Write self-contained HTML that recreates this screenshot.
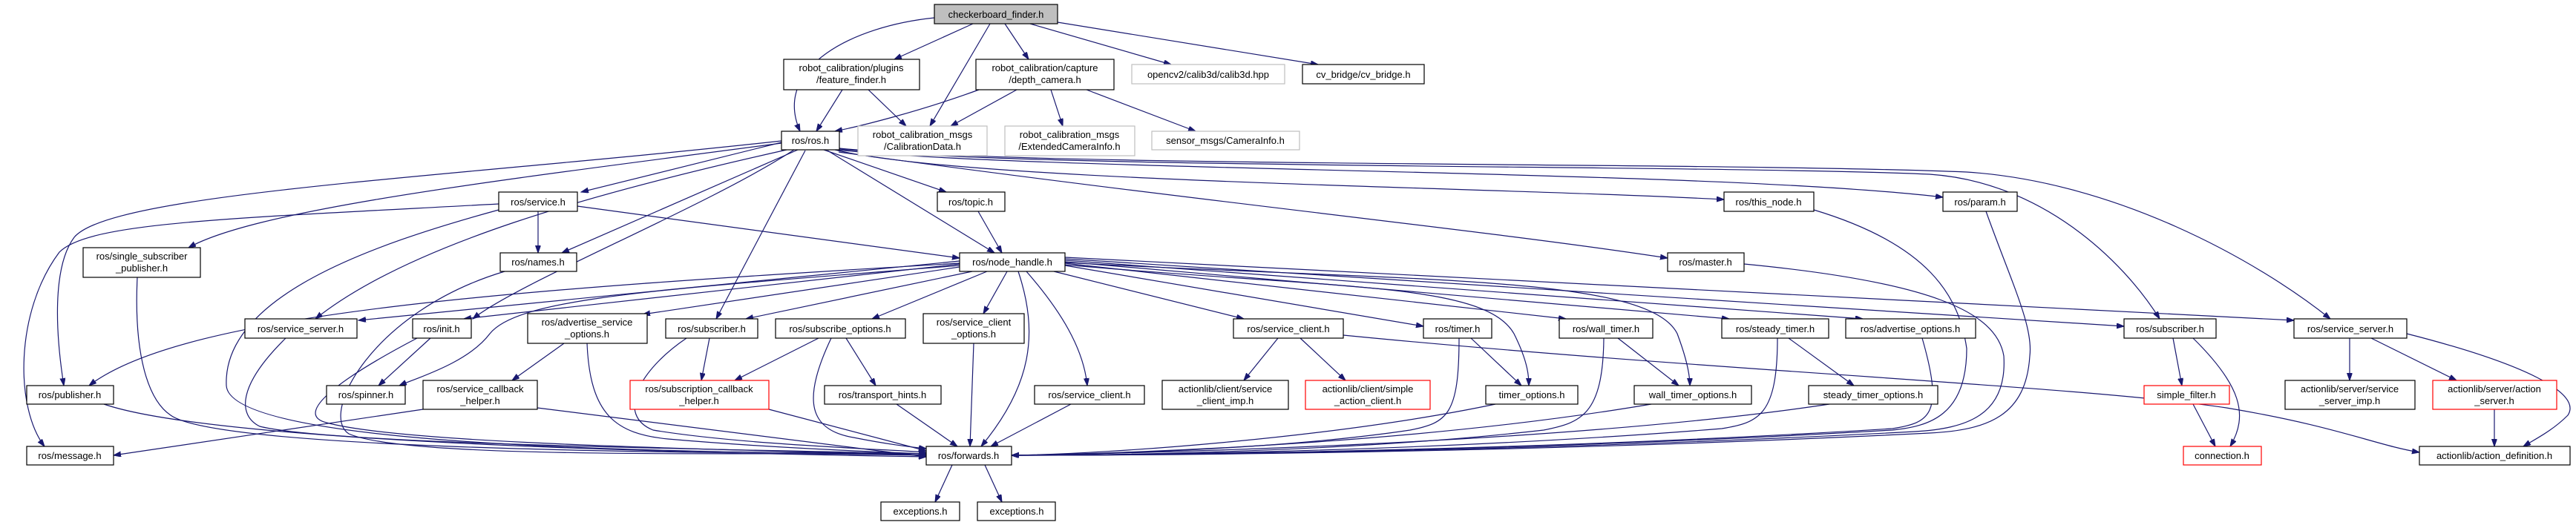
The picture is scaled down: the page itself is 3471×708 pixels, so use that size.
<!DOCTYPE html>
<html><head><meta charset="utf-8"><style>
html,body{margin:0;padding:0;background:#fff}
svg{display:block}
text{font-family:"Liberation Sans",sans-serif;font-size:13px;fill:#000;text-anchor:middle}
.e{fill:none;stroke:#191970;stroke-width:1.2;marker-end:url(#a)}
.n{fill:#fff;stroke:#000;stroke-width:1.2}
.g{fill:#fff;stroke:#bfbfbf;stroke-width:1.2}
.r{fill:#fff;stroke:#ff0000;stroke-width:1.2}
</style></head><body>
<svg width="3471" height="708" viewBox="0 0 3471 708" xmlns="http://www.w3.org/2000/svg">
<defs><marker id="a" markerUnits="userSpaceOnUse" markerWidth="11" markerHeight="8" refX="10" refY="3.5" orient="auto"><polygon points="0,0 10,3.5 0,7" fill="#191970" stroke="#191970"/></marker></defs>
<g>
<path class="e" d="M1259,24 C1150,35 1040,90 1078,177"/>
<path class="e" d="M1311,32 L1205,80"/>
<path class="e" d="M1334,32 L1253,170"/>
<path class="e" d="M1354,32 L1386,80"/>
<path class="e" d="M1388,32 L1578,87"/>
<path class="e" d="M1425,30 L1776,87"/>
<path class="e" d="M1135,121 L1100,177"/>
<path class="e" d="M1170,121 L1221,170"/>
<path class="e" d="M1319,121 C1240,150 1160,170 1125,177"/>
<path class="e" d="M1370,121 L1281,170"/>
<path class="e" d="M1416,121 L1432,170"/>
<path class="e" d="M1464,121 L1611,177"/>
<path class="e" d="M1053,192 L783,259"/>
<path class="e" d="M1053,193 C700,240 350,280 254,334"/>
<path class="e" d="M1053,190 C600,240 150,260 100,320 C70,360 75,450 86,520"/>
<path class="e" d="M672,275 C300,295 120,300 80,340 C20,420 20,550 60,602"/>
<path class="e" d="M1060,202 C800,260 550,330 425,430"/>
<path class="e" d="M1070,202 C950,280 700,380 637,430"/>
<path class="e" d="M1075,202 L757,341"/>
<path class="e" d="M1085,203 L965,430"/>
<path class="e" d="M1110,202 L1275,259"/>
<path class="e" d="M1115,203 L1340,341"/>
<path class="e" d="M1125,202 C1300,245 2000,252 2323,269"/>
<path class="e" d="M1128,202 C1400,232 2300,228 2618,266"/>
<path class="e" d="M1130,205 C1600,270 2000,310 2247,348"/>
<path class="e" d="M1131,201 C1400,228 2300,222 2600,235 C2750,245 2860,350 2910,430"/>
<path class="e" d="M1131,200 C1400,226 2300,218 2650,232 C2850,245 3040,350 3140,430"/>
<path class="e" d="M725,285 L725,341"/>
<path class="e" d="M778,278 L1293,348"/>
<path class="e" d="M672,283 C500,330 300,400 305,520 C310,610 1000,610 1248,612"/>
<path class="e" d="M1293,355 C700,390 250,420 120,520"/>
<path class="e" d="M1293,352 L483,432"/>
<path class="e" d="M1293,358 C900,390 700,400 660,450 C630,490 560,510 538,520"/>
<path class="e" d="M1293,356 L625,430"/>
<path class="e" d="M1293,360 L866,424"/>
<path class="e" d="M1310,366 L1005,430"/>
<path class="e" d="M1330,366 L1175,430"/>
<path class="e" d="M1357,366 L1325,423"/>
<path class="e" d="M1372,366 C1400,450 1390,520 1322,602"/>
<path class="e" d="M1383,366 C1430,420 1460,470 1465,520"/>
<path class="e" d="M1420,366 L1676,430"/>
<path class="e" d="M1435,358 L1918,440"/>
<path class="e" d="M1435,357 C1800,390 2000,380 2040,450 C2060,490 2060,510 2060,520"/>
<path class="e" d="M1435,355 L2110,430"/>
<path class="e" d="M1435,354 C1900,380 2220,370 2260,450 C2275,490 2277,510 2277,520"/>
<path class="e" d="M1435,353 L2330,430"/>
<path class="e" d="M1435,351 L2510,430"/>
<path class="e" d="M1435,349 L2862,440"/>
<path class="e" d="M1435,347 L3091,432"/>
<path class="e" d="M1318,285 L1350,341"/>
<path class="e" d="M680,366 C500,420 430,560 470,585 C550,620 1000,610 1248,612"/>
<path class="e" d="M185,374 C180,480 200,540 230,560 C300,610 1000,610 1248,614"/>
<path class="e" d="M140,545 C300,600 1000,612 1248,616"/>
<path class="e" d="M385,456 C320,520 320,560 350,575 C450,600 1000,606 1248,612"/>
<path class="e" d="M562,456 C440,520 400,560 440,570 C550,600 1000,606 1248,614"/>
<path class="e" d="M580,456 L510,520"/>
<path class="e" d="M570,552 L153,614"/>
<path class="e" d="M724,550 L1248,616"/>
<path class="e" d="M760,463 L690,513"/>
<path class="e" d="M791,463 C795,560 830,585 900,592 C1050,605 1200,610 1248,612"/>
<path class="e" d="M925,456 C860,500 830,560 880,580 C1000,600 1200,606 1248,610"/>
<path class="e" d="M956,456 L945,513"/>
<path class="e" d="M1036,552 L1248,608"/>
<path class="e" d="M1103,456 L990,513"/>
<path class="e" d="M1120,456 C1080,540 1090,580 1150,590 C1200,600 1230,603 1248,605"/>
<path class="e" d="M1140,456 L1180,520"/>
<path class="e" d="M1208,545 L1290,602"/>
<path class="e" d="M1312,463 L1307,602"/>
<path class="e" d="M1443,545 L1335,602"/>
<path class="e" d="M1722,456 L1676,513"/>
<path class="e" d="M1752,456 L1813,513"/>
<path class="e" d="M1810,452 C2300,500 2800,520 3000,550 C3150,575 3200,600 3260,610"/>
<path class="e" d="M1966,456 C1966,560 1950,570 1900,580 C1700,610 1400,614 1363,614"/>
<path class="e" d="M1982,456 L2050,520"/>
<path class="e" d="M2015,545 C1800,590 1500,612 1363,614"/>
<path class="e" d="M2161,456 C2160,560 2130,570 2080,580 C1800,612 1450,614 1363,614"/>
<path class="e" d="M2180,456 L2262,520"/>
<path class="e" d="M2225,545 C1900,600 1500,612 1363,614"/>
<path class="e" d="M2395,456 C2395,560 2370,570 2320,578 C1900,612 1450,614 1363,614"/>
<path class="e" d="M2410,456 L2498,520"/>
<path class="e" d="M2465,545 C2100,600 1500,612 1363,614"/>
<path class="e" d="M2590,456 C2620,560 2600,570 2550,578 C2000,612 1450,614 1363,614"/>
<path class="e" d="M2444,283 C2600,330 2640,400 2650,470 C2650,560 2600,575 2550,580 C2000,612 1450,614 1363,614"/>
<path class="e" d="M2676,285 C2710,380 2740,440 2735,480 C2730,560 2680,580 2600,584 C2000,614 1450,614 1363,614"/>
<path class="e" d="M2350,356 C2600,380 2690,420 2700,480 C2705,560 2650,578 2580,582 C2000,613 1450,614 1363,614"/>
<path class="e" d="M2928,456 L2940,520"/>
<path class="e" d="M2955,456 C3020,520 3030,560 3005,602"/>
<path class="e" d="M2955,545 L2985,602"/>
<path class="e" d="M3166,456 L3166,513"/>
<path class="e" d="M3195,456 L3310,513"/>
<path class="e" d="M3243,450 C3400,490 3480,530 3460,560 C3440,580 3420,590 3400,602"/>
<path class="e" d="M3361,552 L3361,602"/>
<path class="e" d="M1283,627 L1260,677"/>
<path class="e" d="M1327,627 L1350,677"/>
</g>
<g>
<rect x="1259" y="6" width="166" height="26" fill="#bfbfbf" stroke="#000" stroke-width="1.2"/><text x="1342" y="24">checkerboard_finder.h</text>
<rect class="n" x="1056" y="80" width="183" height="41"/><text x="1147" y="96">robot_calibration/plugins</text><text x="1147" y="112">/feature_finder.h</text>
<rect class="n" x="1315" y="80" width="186" height="41"/><text x="1408" y="96">robot_calibration/capture</text><text x="1408" y="112">/depth_camera.h</text>
<rect class="g" x="1525" y="87" width="206" height="26"/><text x="1628" y="105">opencv2/calib3d/calib3d.hpp</text>
<rect class="n" x="1755" y="87" width="164" height="26"/><text x="1837" y="105">cv_bridge/cv_bridge.h</text>
<rect class="n" x="1053" y="177" width="78" height="25"/><text x="1092" y="194">ros/ros.h</text>
<rect class="g" x="1156" y="170" width="174" height="40"/><text x="1243" y="186">robot_calibration_msgs</text><text x="1243" y="202">/CalibrationData.h</text>
<rect class="g" x="1354" y="170" width="175" height="40"/><text x="1441" y="186">robot_calibration_msgs</text><text x="1441" y="202">/ExtendedCameraInfo.h</text>
<rect class="g" x="1552" y="177" width="199" height="25"/><text x="1651" y="194">sensor_msgs/CameraInfo.h</text>
<rect class="n" x="1263" y="259" width="91" height="26"/><text x="1308" y="277">ros/topic.h</text>
<rect class="n" x="1293" y="341" width="142" height="25"/><text x="1364" y="358">ros/node_handle.h</text>
<rect class="n" x="672" y="259" width="106" height="26"/><text x="725" y="277">ros/service.h</text>
<rect class="n" x="112" y="334" width="158" height="40"/><text x="191" y="350">ros/single_subscriber</text><text x="191" y="366">_publisher.h</text>
<rect class="n" x="674" y="341" width="103" height="25"/><text x="725" y="358">ros/names.h</text>
<rect class="n" x="330" y="430" width="151" height="26"/><text x="405" y="448">ros/service_server.h</text>
<rect class="n" x="556" y="430" width="79" height="26"/><text x="595" y="448">ros/init.h</text>
<rect class="n" x="711" y="423" width="161" height="40"/><text x="791" y="439">ros/advertise_service</text><text x="791" y="455">_options.h</text>
<rect class="n" x="36" y="520" width="117" height="25"/><text x="94" y="537">ros/publisher.h</text>
<rect class="n" x="440" y="520" width="106" height="25"/><text x="493" y="537">ros/spinner.h</text>
<rect class="n" x="570" y="513" width="154" height="39"/><text x="647" y="529">ros/service_callback</text><text x="647" y="545">_helper.h</text>
<rect class="n" x="36" y="602" width="117" height="25"/><text x="94" y="619">ros/message.h</text>
<rect class="n" x="897" y="430" width="124" height="26"/><text x="959" y="448">ros/subscriber.h</text>
<rect class="n" x="1045" y="430" width="175" height="26"/><text x="1132" y="448">ros/subscribe_options.h</text>
<rect class="n" x="1244" y="423" width="136" height="40"/><text x="1312" y="439">ros/service_client</text><text x="1312" y="455">_options.h</text>
<rect class="n" x="1394" y="520" width="148" height="25"/><text x="1468" y="537">ros/service_client.h</text>
<rect class="r" x="849" y="513" width="187" height="39"/><text x="942" y="529">ros/subscription_callback</text><text x="942" y="545">_helper.h</text>
<rect class="n" x="1111" y="520" width="157" height="25"/><text x="1189" y="537">ros/transport_hints.h</text>
<rect class="n" x="1566" y="513" width="170" height="39"/><text x="1651" y="529">actionlib/client/service</text><text x="1651" y="545">_client_imp.h</text>
<rect class="n" x="1248" y="602" width="115" height="25"/><text x="1305" y="619">ros/forwards.h</text>
<rect class="n" x="1187" y="677" width="106" height="25"/><text x="1240" y="694">exceptions.h</text>
<rect class="n" x="1317" y="677" width="105" height="25"/><text x="1370" y="694">exceptions.h</text>
<rect class="n" x="1662" y="430" width="148" height="26"/><text x="1736" y="448">ros/service_client.h</text>
<rect class="r" x="1759" y="513" width="168" height="39"/><text x="1843" y="529">actionlib/client/simple</text><text x="1843" y="545">_action_client.h</text>
<rect class="n" x="1918" y="430" width="92" height="26"/><text x="1964" y="448">ros/timer.h</text>
<rect class="n" x="2002" y="520" width="124" height="25"/><text x="2064" y="537">timer_options.h</text>
<rect class="n" x="2101" y="430" width="126" height="26"/><text x="2164" y="448">ros/wall_timer.h</text>
<rect class="n" x="2202" y="520" width="158" height="25"/><text x="2281" y="537">wall_timer_options.h</text>
<rect class="n" x="2320" y="430" width="144" height="26"/><text x="2392" y="448">ros/steady_timer.h</text>
<rect class="n" x="2437" y="520" width="174" height="25"/><text x="2524" y="537">steady_timer_options.h</text>
<rect class="n" x="2487" y="430" width="175" height="26"/><text x="2574" y="448">ros/advertise_options.h</text>
<rect class="n" x="2323" y="259" width="121" height="26"/><text x="2383" y="277">ros/this_node.h</text>
<rect class="n" x="2247" y="341" width="103" height="25"/><text x="2298" y="358">ros/master.h</text>
<rect class="n" x="2618" y="259" width="100" height="26"/><text x="2668" y="277">ros/param.h</text>
<rect class="n" x="2862" y="430" width="124" height="26"/><text x="2924" y="448">ros/subscriber.h</text>
<rect class="n" x="3091" y="430" width="152" height="26"/><text x="3167" y="448">ros/service_server.h</text>
<rect class="r" x="2889" y="520" width="115" height="25"/><text x="2946" y="537">simple_filter.h</text>
<rect class="r" x="2942" y="602" width="105" height="25"/><text x="2994" y="619">connection.h</text>
<rect class="n" x="3079" y="513" width="175" height="39"/><text x="3166" y="529">actionlib/server/service</text><text x="3166" y="545">_server_imp.h</text>
<rect class="r" x="3278" y="513" width="167" height="39"/><text x="3361" y="529">actionlib/server/action</text><text x="3361" y="545">_server.h</text>
<rect class="n" x="3260" y="602" width="203" height="25"/><text x="3361" y="619">actionlib/action_definition.h</text>
</g>
</svg>
</body></html>
